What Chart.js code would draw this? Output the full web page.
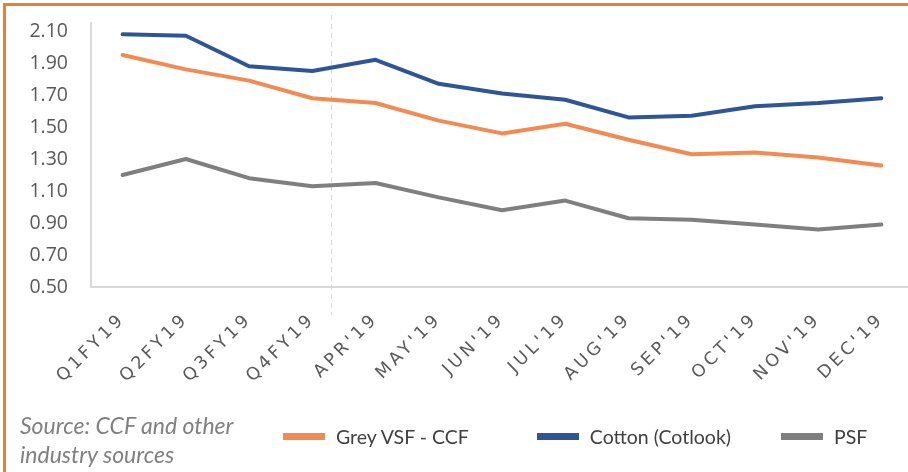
<!DOCTYPE html>
<html>
<head>
<meta charset="utf-8">
<script src="https://cdn.jsdelivr.net/npm/chart.js@4.4.1/dist/chart.umd.min.js"></script>
<style>
body{margin:0;background:#fff;overflow:hidden;width:908px;height:472px;position:relative}
#frame{position:absolute;left:3px;top:3px;width:940px;height:490px;border-left:3px solid #ED7D31;border-top:3px solid #ED7D31}
#wrap{position:absolute;left:0;top:0}
#source{position:absolute;left:20px;top:411px;font-family:Lato,sans-serif;font-style:italic;font-size:23px;line-height:29px;color:#808080;white-space:nowrap}
#legend{position:absolute;left:283px;top:425px;display:flex;font-family:Lato,sans-serif;font-size:19.5px;color:#404040;white-space:nowrap}
.item{display:flex;align-items:center}
.sw{width:42px;height:7px;margin-right:11px}
</style>
</head>
<body>
<div id="wrap"><canvas id="chart" width="930" height="400"></canvas></div>
<div id="frame"></div>
<div id="source">Source: CCF and other<br>industry sources</div>
<div id="legend"></div>
<script>
const categories = ["Q1FY19","Q2FY19","Q3FY19","Q4FY19","APR'19","MAY'19","JUN'19","JUL'19","AUG'19","SEP'19","OCT'19","NOV'19","DEC'19"]
const greyVsf = [1.95,1.86,1.79,1.68,1.65,1.54,1.46,1.52,1.42,1.33,1.34,1.31,1.26]
const cotton = [2.08,2.07,1.88,1.85,1.92,1.77,1.71,1.67,1.56,1.57,1.63,1.65,1.68]
const psf = [1.20,1.30,1.18,1.13,1.15,1.06,0.98,1.04,0.93,0.92,0.89,0.86,0.89]
const yTicks = [0.5,0.7,0.9,1.1,1.3,1.5,1.7,1.9,2.1]
const seriesNames = ["Grey VSF - CCF","Cotton (Cotlook)","PSF"]
const seriesColors = ["#F28A52","#2F5597","#7F7F7F"]
const dividerAt = 3.3 // between Q4FY19 and APR'19
const legendGaps = [68, 50, 0]

// dashed separator line between quarters and months
const divider = {
  id: "divider",
  beforeDatasetsDraw(chart){
    const c = chart.ctx, a = chart.chartArea
    const x = Math.round(chart.scales.x.getPixelForValue(dividerAt)) + 0.5
    c.save()
    c.strokeStyle = "#d9d9d9"
    c.lineWidth = 1
    c.setLineDash([5,4])
    c.beginPath()
    c.moveTo(x, a.top - 8)
    c.lineTo(x, a.bottom + 28)
    c.stroke()
    c.restore()
  }
}

// x labels are letter spaced in the original
const spacedLabels = {
  id: "spacedLabels",
  beforeDraw(chart){
    const sc = chart.scales.x
    if(sc._spaced) return
    const orig = sc.drawLabels
    sc.drawLabels = function(area){
      this.ctx.save()
      this.ctx.letterSpacing = "3.5px"
      orig.call(this, area)
      this.ctx.restore()
    }
    sc._spaced = true
  }
}

const data = [greyVsf, cotton, psf]

new Chart(document.getElementById("chart"), {
  type: "line",
  data: {
    labels: categories,
    datasets: data.map((d,i) => ({
      label: seriesNames[i],
      data: d,
      borderColor: seriesColors[i],
      backgroundColor: seriesColors[i],
      borderWidth: 4,
      pointRadius: 0,
      tension: 0,
      borderCapStyle: "round",
      borderJoinStyle: "round"
    }))
  },
  plugins: [divider, spacedLabels],
  options: {
    responsive: false,
    animation: false,
    layout: { padding: { top: 23, right: 17, left: 0, bottom: 0 } },
    plugins: { legend: { display: false }, tooltip: { enabled: false } },
    scales: {
      x: {
        offset: true,
        grid: { display: false },
        border: { display: true, color: "#d9d9d9", width: 2 },
        afterFit: s => { s.height = 113; s.paddingLeft = 0; s.paddingRight = 0 },
        ticks: {
          minRotation: 45, maxRotation: 45, autoSkip: false,
          padding: 14,
          color: "#595959",
          font: { family: "'DejaVu Sans', sans-serif", size: 17.5 }
        }
      },
      y: {
        min: 0.5,
        max: 2.15,
        grid: { display: false },
        border: { display: true, color: "#d9d9d9", width: 2 },
        afterFit: s => { s.width = 91; s.paddingTop = 0; s.paddingBottom = 0 },
        afterBuildTicks: s => { s.ticks = yTicks.map(v => ({ value: v })) },
        ticks: {
          padding: 15,
          color: "#595959",
          font: { family: "'Open Sans', sans-serif", size: 19.5 },
          callback: v => Number(v).toFixed(2)
        }
      }
    }
  }
})

// legend
const legend = document.getElementById("legend")
seriesNames.forEach((n,i) => {
  const it = document.createElement("div")
  it.className = "item"
  it.style.marginRight = legendGaps[i] + "px"
  it.innerHTML = '<span class="sw" style="background:' + seriesColors[i] + '"></span><span>' + n + '</span>'
  legend.appendChild(it)
})
</script>
</body>
</html>
